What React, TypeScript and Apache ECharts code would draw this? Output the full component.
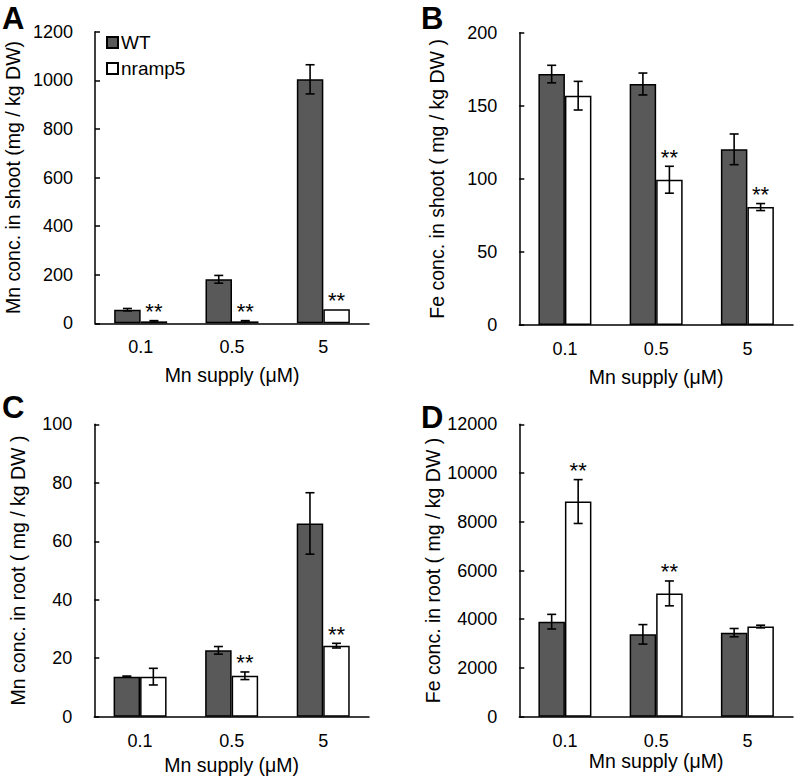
import React, { useEffect, useRef } from "react";
import * as echarts from "echarts";

const categories = ["0.1", "0.5", "5"];

// Panel A: Mn conc. in shoot
const aWT = [56, 181, 1004];
const aWTErr = [5, 16, 60];
const aMut = [8, 8, 58];
const aMutErr = [3, 3, 0];
const aSig = [true, true, true];

// Panel B: Fe conc. in shoot
const bWT = [171.7, 164.9, 120.2];
const bWTErr = [6, 7.5, 10.5];
const bMut = [156.9, 99.4, 80.7];
const bMutErr = [9.8, 9.2, 2.4];
const bSig = [false, true, true];

// Panel C: Mn conc. in root
const cWT = [13.7, 22.7, 66.1];
const cWTErr = [0.2, 1.3, 10.5];
const cMut = [13.7, 14.0, 24.3];
const cMutErr = [2.85, 1.3, 0.8];
const cSig = [false, true, true];

// Panel D: Fe conc. in root
const dWT = [3900, 3380, 3450];
const dWTErr = [300, 400, 170];
const dMut = [8830, 5060, 3700];
const dMutErr = [900, 510, 55];
const dSig = [true, true, false];

const yNames = [
  "Mn conc. in shoot (mg / kg DW)",
  "Fe conc. in shoot ( mg / kg DW )",
  "Mn conc. in root ( mg / kg DW )",
  "Fe conc. in root ( mg / kg DW )",
];
const yMax = [1200, 200, 100, 12000];
const yInterval = [200, 50, 20, 2000];
const panelLetters = ["A", "B", "C", "D"];

const FONT = "'Liberation Sans', Arial, sans-serif";
const BAR_W = 26.5;

const grids = [
  { left: 95, top: 31.7, width: 274, height: 291.6 },
  { left: 519.3, top: 32.7, width: 273.7, height: 292.3 },
  { left: 94.3, top: 424.3, width: 274.7, height: 292.4 },
  { left: 519.3, top: 424.3, width: 273.7, height: 292.4 },
];
const yNameGaps = [72, 72, 66, 72];
const xNameGaps = [42, 42, 38, 29];
const letterPos = [
  [2, 3],
  [421, 3],
  [2, 392],
  [421, 402],
];

const panels = [
  { wt: aWT, wtErr: aWTErr, mut: aMut, mutErr: aMutErr, sig: aSig },
  { wt: bWT, wtErr: bWTErr, mut: bMut, mutErr: bMutErr, sig: bSig },
  { wt: cWT, wtErr: cWTErr, mut: cMut, mutErr: cMutErr, sig: cSig },
  { wt: dWT, wtErr: dWTErr, mut: dMut, mutErr: dMutErr, sig: dSig },
];

function renderErr(params: any, api: any) {
  const idx = api.value(0);
  const val = api.value(1);
  const err = api.value(2);
  const sign = api.value(3);
  const sig = api.value(4);
  const base = api.coord([idx, val]);
  const x = base[0] + sign * (BAR_W / 2);
  const top = api.coord([idx, val + err])[1];
  const bot = api.coord([idx, val - err])[1];
  const cap = 4.5;
  const style = { stroke: "#000", lineWidth: 1.6 };
  const children: any[] = [];
  if (err > 0) {
    children.push(
      { type: "line", shape: { x1: x, y1: top, x2: x, y2: bot }, style },
      { type: "line", shape: { x1: x - cap, y1: top, x2: x + cap, y2: top }, style },
      { type: "line", shape: { x1: x - cap, y1: bot, x2: x + cap, y2: bot }, style }
    );
  }
  if (sig) {
    children.push({
      type: "text",
      style: {
        text: "**",
        x: x,
        y: top + 2,
        align: "center",
        verticalAlign: "bottom",
        fontSize: 22,
        fontFamily: FONT,
        fill: "#000",
      },
    });
  }
  return { type: "group", children };
}

export default function App() {
  const ref = useRef<HTMLDivElement>(null);
  useEffect(() => {
    document.body.style.margin = "0";
    const chart = echarts.init(ref.current!, null, { renderer: "svg" });
    const series: any[] = [];
    panels.forEach((p, i) => {
      series.push({
        type: "bar",
        name: "WT",
        xAxisIndex: i,
        yAxisIndex: i,
        data: p.wt,
        barWidth: BAR_W,
        barGap: "0%",
        itemStyle: { color: "#595959", borderColor: "#000", borderWidth: 1.5 },
      });
      series.push({
        type: "bar",
        name: "nramp5",
        xAxisIndex: i,
        yAxisIndex: i,
        data: p.mut,
        barWidth: BAR_W,
        barGap: "0%",
        itemStyle: { color: "#ffffff", borderColor: "#000", borderWidth: 1.5 },
      });
      const rows: any[] = [];
      categories.forEach((_, k) => {
        rows.push([k, p.wt[k], p.wtErr[k], -1, 0]);
        rows.push([k, p.mut[k], p.mutErr[k], 1, p.sig[k] ? 1 : 0]);
      });
      series.push({
        type: "custom",
        xAxisIndex: i,
        yAxisIndex: i,
        data: rows,
        encode: { x: 0, y: 1 },
        renderItem: renderErr,
        z: 10,
        silent: true,
      });
    });

    const option: any = {
      animation: false,
      backgroundColor: "#fff",
      textStyle: { fontFamily: FONT, color: "#000" },
      legend: {
        data: ["WT", "nramp5"],
        orient: "vertical",
        left: 106,
        top: 33,
        itemWidth: 11,
        itemHeight: 11,
        itemGap: 7,
        padding: 0,
        icon: "rect",
        textStyle: { fontSize: 19, fontFamily: FONT, color: "#000", padding: [0, 0, 0, -2] },
        selectedMode: false,
      },
      grid: grids.map((g) => ({ ...g, containLabel: false })),
      xAxis: grids.map((_, i) => ({
        type: "category",
        gridIndex: i,
        data: categories,
        name: "Mn supply (μM)",
        nameLocation: "middle",
        nameGap: xNameGaps[i],
        nameTextStyle: { fontSize: 19.5, fontFamily: FONT, color: "#000" },
        axisLine: { lineStyle: { color: "#000", width: 1.5 } },
        axisTick: { inside: true, length: 5, lineStyle: { color: "#000", width: 1.5 } },
        axisLabel: { fontSize: 18, fontFamily: FONT, color: "#000", margin: 15 },
        splitLine: { show: false },
      })),
      yAxis: grids.map((_, i) => ({
        type: "value",
        gridIndex: i,
        min: 0,
        max: yMax[i],
        interval: yInterval[i],
        name: yNames[i],
        nameLocation: "middle",
        nameGap: yNameGaps[i],
        nameTextStyle: { fontSize: 19.5, fontFamily: FONT, color: "#000" },
        axisLine: { show: true, lineStyle: { color: "#000", width: 1.5 } },
        axisTick: { show: true, inside: true, length: 5, lineStyle: { color: "#000", width: 1.5 } },
        axisLabel: {
          fontSize: 18,
          fontFamily: FONT,
          color: "#000",
          margin: 22,
          formatter: (v: number) => String(v),
        },
        splitLine: { show: false },
      })),
      graphic: panelLetters.map((t, i) => ({
        type: "text",
        left: letterPos[i][0],
        top: letterPos[i][1],
        style: { text: t, fontSize: 31, fontWeight: "bold", fontFamily: FONT, fill: "#000" },
      })),
      series,
    };
    chart.setOption(option);
    return () => chart.dispose();
  }, []);
  return <div ref={ref} style={{ width: 797, height: 778 }} />;
}
